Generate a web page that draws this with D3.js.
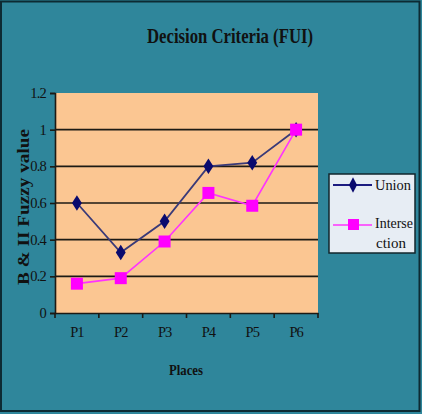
<!DOCTYPE html>
<html>
<head>
<meta charset="utf-8"/>
<script src="https://d3js.org/d3.v7.min.js"></script>
<style>
  body { margin: 0; background: #fff; }
  svg text { font-family: "Liberation Serif", "DejaVu Serif", serif; fill: #111; }
</style>
</head>
<body>
<div id="chart"></div>
<script>
// chart data
var places = ["P1", "P2", "P3", "P4", "P5", "P6"];
var unionValues = [0.6, 0.33, 0.5, 0.8, 0.82, 1.0];
var interValues = [0.16, 0.19, 0.39, 0.655, 0.585, 1.0];
var yTicks = [0, 0.2, 0.4, 0.6, 0.8, 1, 1.2];
var yTickLabels = ["0", "0.2", "0.4", "0.6", "0.8", "1", "1.2"];

var width = 422, height = 414;
var plot = {left: 55, right: 318, top: 93, bottom: 313};

var svg = d3.select("#chart").append("svg")
    .attr("width", width)
    .attr("height", height);

// background + frame
svg.append("rect")
    .attr("x", 0).attr("y", 0)
    .attr("width", width).attr("height", height)
    .attr("fill", "#2f869b");
svg.append("rect")
    .attr("x", 1).attr("y", 1.5)
    .attr("width", width - 3.5).attr("height", height - 4.5)
    .attr("fill", "none")
    .attr("stroke", "#0d2a33")
    .attr("stroke-width", 2);

var x = d3.scaleBand()
    .domain(places)
    .range([plot.left, plot.right]);
var y = d3.scaleLinear()
    .domain([0, 1.2])
    .range([plot.bottom, plot.top]);

svg.append("rect")
    .attr("x", plot.left).attr("y", plot.top)
    .attr("width", plot.right - plot.left)
    .attr("height", plot.bottom - plot.top)
    .attr("fill", "#fbc692");

// gridlines
svg.selectAll(".grid")
    .data(yTicks.slice(1, -1))
    .enter().append("line")
    .attr("class", "grid")
    .attr("x1", plot.left).attr("x2", plot.right)
    .attr("y1", function(d){ return y(d); })
    .attr("y2", function(d){ return y(d); })
    .attr("stroke", "#1c1a14")
    .attr("stroke-width", 1.6);

// y axis
var yAxis = d3.axisLeft(y)
    .tickValues(yTicks)
    .tickFormat(function(d, i){ return yTickLabels[i]; })
    .tickSize(5)
    .tickPadding(4);
var gy = svg.append("g")
    .attr("transform", "translate(" + plot.left + ",0)")
    .call(yAxis);
gy.select(".domain").attr("stroke", "#1c1a14").attr("stroke-width", 1.6);
gy.selectAll(".tick line").attr("stroke", "#1c1a14").attr("stroke-width", 1.6);
gy.selectAll(".tick text")
    .attr("font-size", 14.5)
    .attr("font-family", "Liberation Serif, serif")
    .attr("fill", "#111")
    .attr("letter-spacing", -0.8);

// x axis
var xAxis = d3.axisBottom(x)
    .tickSize(0)
    .tickPadding(14);
var gx = svg.append("g")
    .attr("transform", "translate(0," + plot.bottom + ")")
    .call(xAxis);
gx.select(".domain").attr("stroke", "#1c1a14").attr("stroke-width", 1.6);
gx.selectAll(".tick text")
    .attr("font-size", 14.5)
    .attr("font-family", "Liberation Serif, serif")
    .attr("fill", "#111")
    .attr("letter-spacing", -1);
// band boundary ticks
var bounds = places.map(function(p){ return x(p); }).concat([plot.right]);
gx.selectAll(".btick")
    .data(bounds)
    .enter().append("line")
    .attr("class", "btick")
    .attr("x1", function(d){ return d; })
    .attr("x2", function(d){ return d; })
    .attr("y1", 0).attr("y2", 5)
    .attr("stroke", "#1c1a14")
    .attr("stroke-width", 1.6);

// lines
var line = d3.line()
    .x(function(d, i){ return x(places[i]) + x.bandwidth() / 2; })
    .y(function(d){ return y(d); });

svg.append("path")
    .datum(unionValues)
    .attr("d", line)
    .attr("fill", "none")
    .attr("stroke", "#3a3a78")
    .attr("stroke-width", 1.8);

svg.append("path")
    .datum(interValues)
    .attr("d", line)
    .attr("fill", "none")
    .attr("stroke", "#ff33ff")
    .attr("stroke-width", 1.6);

// markers
var diamond = d3.symbol().type(d3.symbolDiamond).size(70);
svg.selectAll(".umark")
    .data(unionValues)
    .enter().append("path")
    .attr("class", "umark")
    .attr("d", diamond)
    .attr("transform", function(d, i){
        return "translate(" + (x(places[i]) + x.bandwidth() / 2) + "," + y(d) + ") scale(1.1,1)";
    })
    .attr("fill", "#0a0a6e");

svg.selectAll(".imark")
    .data(interValues)
    .enter().append("rect")
    .attr("class", "imark")
    .attr("x", function(d, i){ return x(places[i]) + x.bandwidth() / 2 - 6; })
    .attr("y", function(d){ return y(d) - 6; })
    .attr("width", 12).attr("height", 12)
    .attr("fill", "#ff00ff");

// title
svg.append("text")
    .attr("x", 230).attr("y", 43)
    .attr("text-anchor", "middle")
    .attr("font-size", 22)
    .attr("font-weight", "bold")
    .attr("textLength", 166)
    .attr("lengthAdjust", "spacingAndGlyphs")
    .text("Decision Criteria (FUI)");

// axis titles
svg.append("text")
    .attr("x", 186).attr("y", 375)
    .attr("text-anchor", "middle")
    .attr("font-size", 15)
    .attr("font-weight", "bold")
    .attr("textLength", 34)
    .attr("lengthAdjust", "spacingAndGlyphs")
    .text("Places");

svg.append("text")
    .attr("transform", "translate(29,207) rotate(-90)")
    .attr("text-anchor", "middle")
    .attr("font-size", 17)
    .attr("font-weight", "bold")
    .attr("textLength", 156)
    .attr("lengthAdjust", "spacingAndGlyphs")
    .text("B & II Fuzzy value");

// legend
var lg = svg.append("g").attr("transform", "translate(329,174)");
lg.append("rect")
    .attr("width", 86).attr("height", 79)
    .attr("fill", "#e7edf4")
    .attr("stroke", "#12262c")
    .attr("stroke-width", 1.5);
lg.append("line")
    .attr("x1", 4).attr("x2", 43).attr("y1", 11).attr("y2", 11)
    .attr("stroke", "#1c1c80").attr("stroke-width", 1.8);
lg.append("path")
    .attr("d", diamond)
    .attr("transform", "translate(24,11) scale(0.9,1)")
    .attr("fill", "#0a0a6e");
lg.append("line")
    .attr("x1", 4).attr("x2", 43).attr("y1", 51).attr("y2", 51)
    .attr("stroke", "#ff33ff").attr("stroke-width", 1.6);
lg.append("rect")
    .attr("x", 19).attr("y", 45).attr("width", 11).attr("height", 11)
    .attr("fill", "#ff00ff");
lg.append("text").attr("x", 46).attr("y", 16).attr("font-size", 15)
    .attr("textLength", 36).attr("lengthAdjust", "spacingAndGlyphs").text("Union");
lg.append("text").attr("x", 46).attr("y", 54).attr("font-size", 15)
    .attr("textLength", 38).attr("lengthAdjust", "spacingAndGlyphs").text("Interse");
lg.append("text").attr("x", 47).attr("y", 74).attr("font-size", 15)
    .attr("textLength", 30).attr("lengthAdjust", "spacingAndGlyphs").text("ction");
</script>
</body>
</html>
